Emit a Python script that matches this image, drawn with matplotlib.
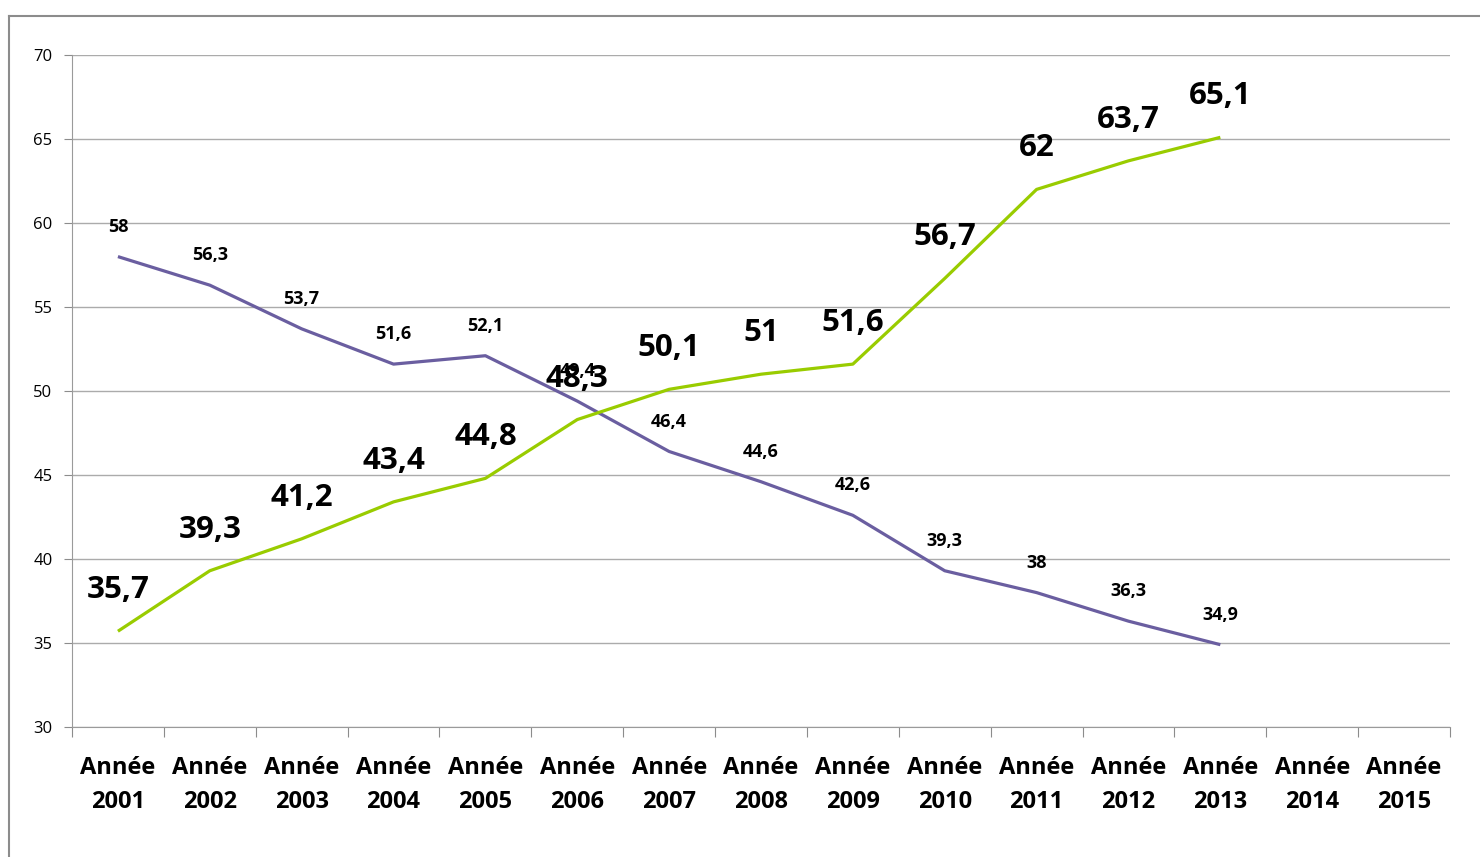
import matplotlib.pyplot as plt
from matplotlib.lines import Line2D

years = [str(y) for y in range(2001, 2016)]
purple_vals = [58, 56.3, 53.7, 51.6, 52.1, 49.4, 46.4, 44.6, 42.6, 39.3, 38, 36.3, 34.9]
green_vals = [35.7, 39.3, 41.2, 43.4, 44.8, 48.3, 50.1, 51, 51.6, 56.7, 62, 63.7, 65.1]
y_ticks = [30, 35, 40, 45, 50, 55, 60, 65, 70]


def fr(v):
    # French decimal comma
    return ('%g' % v).replace('.', ',')


def main():
    plt.rcParams['font.family'] = ['Open Sans', 'DejaVu Sans']
    fig = plt.figure(figsize=(14.8, 8.57), dpi=100)
    ax = fig.add_axes([72 / 1480, 1 - 727 / 857, (1450 - 72) / 1480, (727 - 55) / 857])

    # outer frame (partially cut by the image edge)
    fig.add_artist(Line2D([9 / 1480, 1.0], [1 - 16 / 857] * 2, transform=fig.transFigure,
                          color='#8c8c8c', lw=1.5))
    fig.add_artist(Line2D([9 / 1480] * 2, [0.0, 1 - 16 / 857], transform=fig.transFigure,
                          color='#8c8c8c', lw=1.5))

    x = list(range(len(purple_vals)))
    ax.plot(x, purple_vals, color='#6a5ea0', lw=2.3, solid_capstyle='butt', zorder=3)
    ax.plot(x, green_vals, color='#99cc00', lw=2.3, solid_capstyle='butt', zorder=3)

    for xi, v in zip(x, purple_vals):
        ax.annotate(fr(v), (xi, v), xytext=(0, 21.5), textcoords='offset points',
                    ha='center', va='center', fontsize=13, fontweight='bold', zorder=4)
    for xi, v in zip(x, green_vals):
        ax.annotate(fr(v), (xi, v), xytext=(0, 29.5), textcoords='offset points',
                    ha='center', va='center', fontsize=22.5, fontweight='bold', zorder=4)

    ax.set_xlim(-0.5, len(years) - 0.5)
    ax.set_ylim(30, 70)
    ax.set_yticks(y_ticks)
    ax.set_yticklabels([str(t) for t in y_ticks], fontsize=12)
    ax.yaxis.grid(True, color='#ababab', lw=1)
    ax.set_axisbelow(True)

    ax.set_xticks([i - 0.5 for i in range(len(years) + 1)])
    ax.set_xticklabels([])
    ax.set_xticks(range(len(years)), minor=True)
    ax.set_xticklabels(['Année\n' + y for y in years], minor=True,
                       fontsize=17, fontweight='bold', linespacing=1.55)
    ax.tick_params(axis='x', which='major', length=7, color='#8c8c8c', direction='out')
    ax.tick_params(axis='x', which='minor', length=0, pad=21)
    ax.tick_params(axis='y', length=6, color='#8c8c8c', pad=8)

    for s in ['top', 'right']:
        ax.spines[s].set_visible(False)
    for s in ['left', 'bottom']:
        ax.spines[s].set_color('#9a9a9a')

    fig.savefig('out.png', dpi=100)


if __name__ == "__main__":
    main()
